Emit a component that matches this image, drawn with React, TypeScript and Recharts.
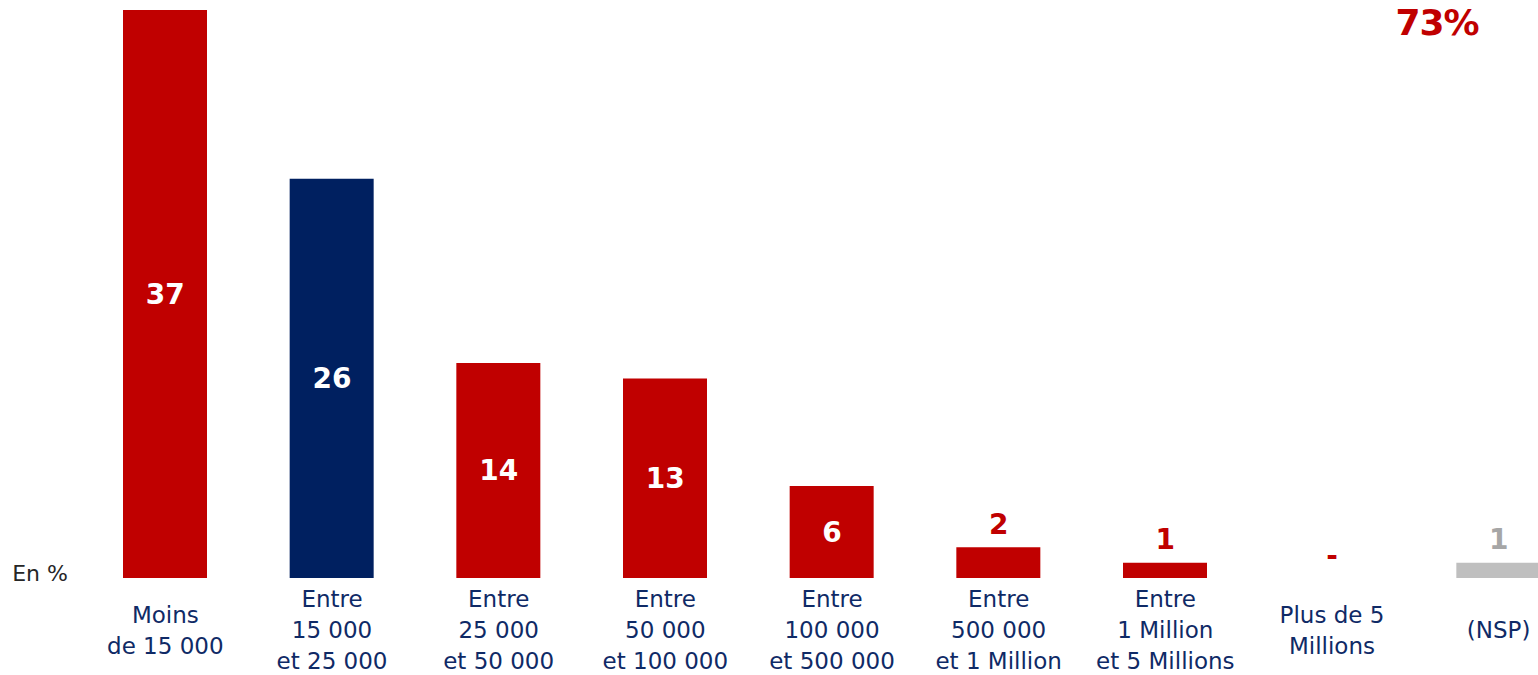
import { Bar, Cell, ComposedChart, LabelList, Line, XAxis, YAxis } from "recharts";

const RED = "#C00000";
const NAVY = "#002060";
const GRAY = "#BFBFBF";
const TEXT_NAVY = "#0F2A66";

const categories = [
  "Moins\nde 15 000",
  "Entre\n15 000\net 25 000",
  "Entre\n25 000\net 50 000",
  "Entre\n50 000\net 100 000",
  "Entre\n100 000\net 500 000",
  "Entre\n500 000\net 1 Million",
  "Entre\n1 Million\net 5 Millions",
  "Plus de 5\nMillions",
  "(NSP)",
];
const values = [37, 26, 14, 13, 6, 2, 1, 0, 1];
const barColors = [RED, NAVY, RED, RED, RED, RED, RED, RED, GRAY];
const valueLabels = ["37", "26", "14", "13", "6", "2", "1", "-", "1"];

const data = categories.map((name, i) => ({
  name,
  value: values[i],
  idx: i,
}));

const FONT = "'DejaVu Sans', sans-serif";

function CategoryTick(props: any) {
  const { x, y, payload } = props;
  const lines: string[] = String(payload.value).split("\n");
  const lineH = 31;
  const start = 630 - ((lines.length - 1) * lineH) / 2;
  return (
    <text x={x} y={y} textAnchor="middle" fill={TEXT_NAVY} fontFamily={FONT} fontSize={23}>
      {lines.map((l, i) => (
        <tspan key={i} x={x} y={start + i * lineH} dy="0.35em">
          {l}
        </tspan>
      ))}
    </text>
  );
}

// labels hang off an invisible line so the zero bar still gets its "-"
function ValueLabel(props: any) {
  const { x, y, value } = props;
  const i = Number(value);
  const v = values[i];
  const base = 578;
  if (v >= 5) {
    return (
      <text x={x} y={(y + base) / 2} dy="0.35em" textAnchor="middle" fill="#FFFFFF" fontFamily={FONT} fontWeight="bold" fontSize={28}>
        {valueLabels[i]}
      </text>
    );
  }
  const fill = barColors[i] === GRAY ? "#A6A6A6" : RED;
  return (
    <text x={x} y={y - 23} dy="0.35em" textAnchor="middle" fill={fill} fontFamily={FONT} fontWeight="bold" fontSize={28}>
      {valueLabels[i]}
    </text>
  );
}

export default function App() {
  return (
    <div style={{ position: "absolute", left: 0, top: 0, width: 1538, height: 675, overflow: "hidden", background: "#fff" }}>
      <ComposedChart width={1600} height={675} data={data} margin={{ top: 10, right: 18, left: 82, bottom: 0 }} barCategoryGap={0}>
        <XAxis dataKey="name" axisLine={false} tickLine={false} height={97} interval={0} tick={<CategoryTick />} />
        <YAxis hide domain={[0, 37]} />
        <Bar dataKey="value" barSize={84} isAnimationActive={false}>
          {data.map((d, i) => (
            <Cell key={i} fill={barColors[i]} />
          ))}
        </Bar>
        <Line dataKey="value" stroke="none" dot={false} activeDot={false} isAnimationActive={false}>
          <LabelList dataKey="idx" content={<ValueLabel />} />
        </Line>
        <text x={40} y={573} dy="0.35em" textAnchor="middle" fill="#262626" fontFamily={FONT} fontSize={22}>
          En %
        </text>
        <text x={1437} y={35} textAnchor="middle" fill={RED} fontFamily={FONT} fontWeight="bold" fontSize={36} letterSpacing={-1}>
          73%
        </text>
      </ComposedChart>
    </div>
  );
}
